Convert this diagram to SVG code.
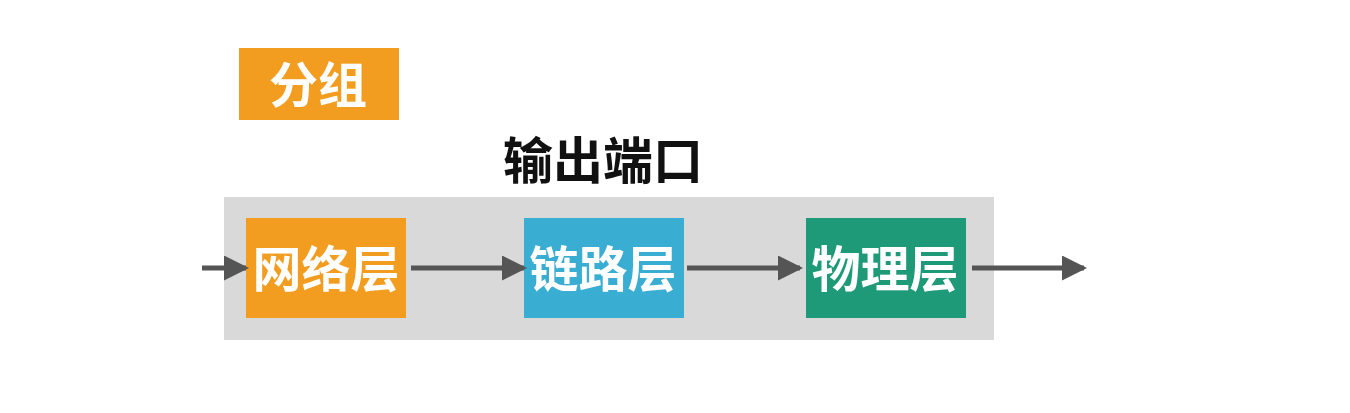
<svg xmlns="http://www.w3.org/2000/svg" width="1350" height="413" viewBox="0 0 1350 413">
<style>
.lbl{font-family:"Liberation Sans","Noto Sans CJK SC",sans-serif;font-weight:bold;fill:#fff;text-anchor:middle;dominant-baseline:central}
.conn{stroke:#555;stroke-width:5;fill:none;marker-end:url(#ah)}
</style>
<defs>
<marker id="ah" markerWidth="5" markerHeight="5" refX="4.4" refY="2.5" orient="auto" markerUnits="strokeWidth">
<path d="M0,0 L5,2.5 L0,5 Z" fill="#555"/>
</marker>
</defs>
<rect width="1350" height="413" fill="#fff"/>
<g id="packet">
<rect x="239" y="48" width="160" height="72" fill="#F29D1F"/>
<text class="lbl" x="318" y="86" font-size="49">分组</text>
</g>
<g id="port">
<rect x="224" y="197" width="770" height="143" fill="#D9D9D9"/>
<text x="603" y="162" font-family="Liberation Sans,Noto Sans CJK SC,sans-serif" font-weight="bold" font-size="50" fill="#111" text-anchor="middle" dominant-baseline="central">输出端口</text>
</g>
<g id="network">
<rect x="246" y="218" width="160" height="100" fill="#F29D1F"/>
<text class="lbl" x="326" y="270" font-size="49">网络层</text>
</g>
<g id="link">
<rect x="524" y="218" width="160" height="100" fill="#3AADD2"/>
<text class="lbl" x="603" y="270" font-size="49">链路层</text>
</g>
<g id="physical">
<rect x="806" y="218" width="160" height="100" fill="#1F9A78"/>
<text class="lbl" x="885" y="270" font-size="49">物理层</text>
</g>
<g id="connectors">
<line class="conn" x1="202" y1="268" x2="246" y2="268"/>
<line class="conn" x1="411" y1="268" x2="524" y2="268"/>
<line class="conn" x1="687" y1="268" x2="800" y2="268"/>
<line class="conn" x1="972" y1="268" x2="1084" y2="268"/>
</g>
</svg>
